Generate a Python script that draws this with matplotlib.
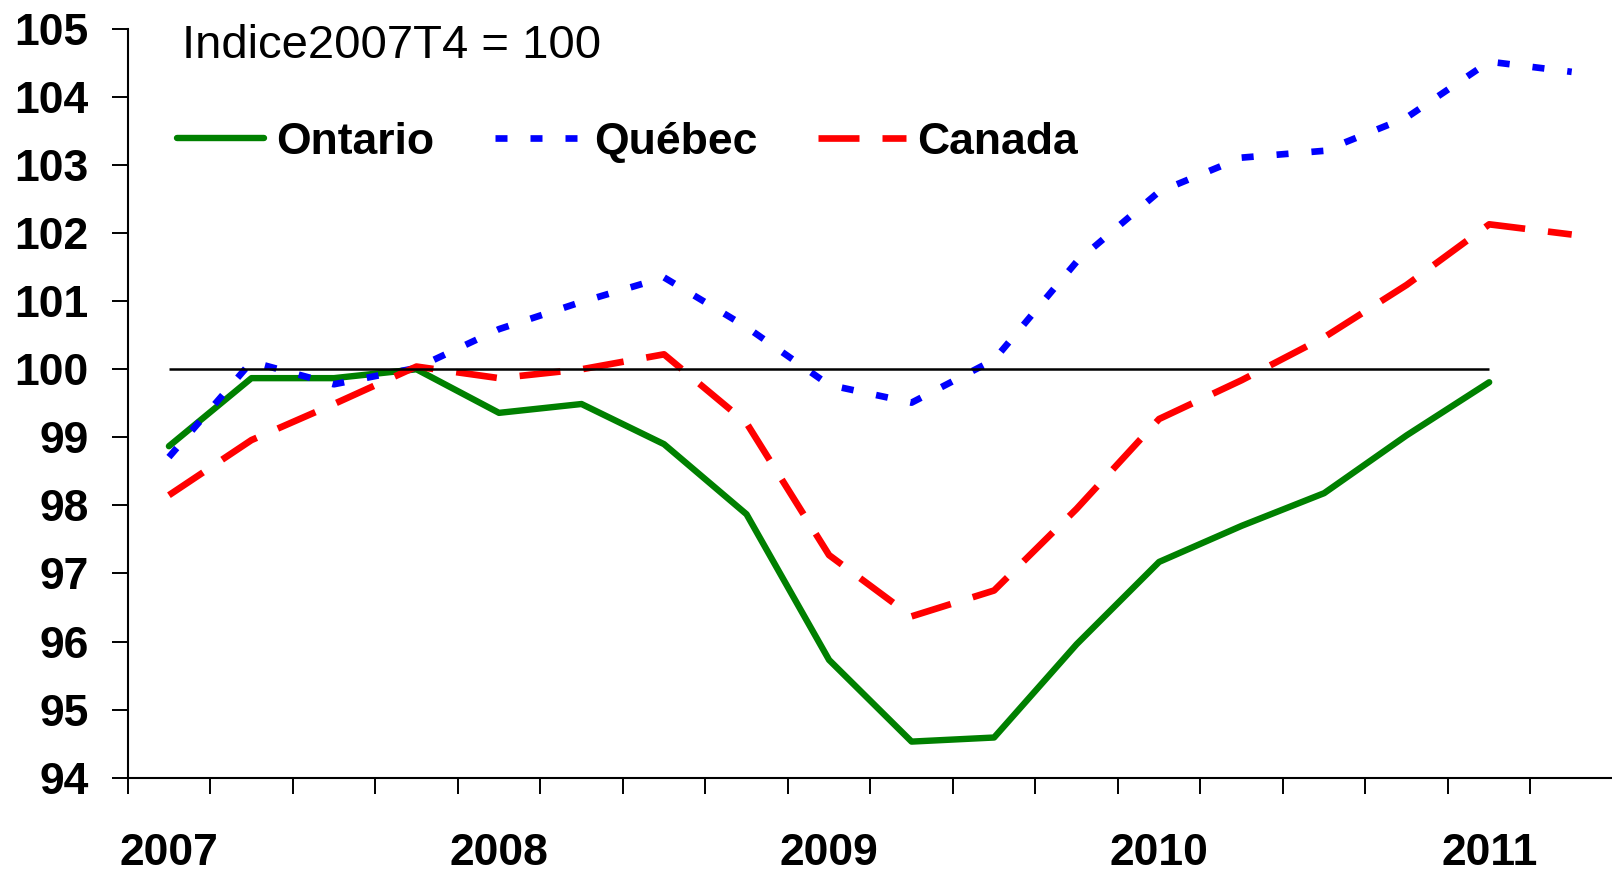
import numpy as np
import matplotlib.pyplot as plt

plt.rcParams['font.family'] = ['Liberation Sans', 'DejaVu Sans']

# quarters 2007T1 .. 2011T2, index 2007T4 = 100
quarters = ['2007T1', '2007T2', '2007T3', '2007T4',
            '2008T1', '2008T2', '2008T3', '2008T4',
            '2009T1', '2009T2', '2009T3', '2009T4',
            '2010T1', '2010T2', '2010T3', '2010T4',
            '2011T1', '2011T2']
years = ['2007', '2008', '2009', '2010', '2011']

ontario = [98.87, 99.87, 99.87, 100.0, 99.36, 99.49, 98.90, 97.87, 95.73,
           94.53, 94.59, 95.96, 97.17, 97.70, 98.18, 99.03, 99.81]
quebec = [98.71, 100.11, 99.78, 100.02, 100.59, 100.99, 101.35, 100.62, 99.77,
          99.51, 100.14, 101.58, 102.61, 103.11, 103.21, 103.70, 104.52, 104.37]
canada = [98.15, 98.96, 99.49, 100.04, 99.87, 100.0, 100.22, 99.21, 97.27,
          96.37, 96.75, 97.95, 99.27, 99.84, 100.47, 101.24, 102.13, 101.98]

fig = plt.figure(figsize=(16.12, 8.73), dpi=100)
ax = fig.add_axes([0.0792, 0.1092, 0.9214, 0.8576])

x = np.arange(len(quarters))
ax.plot(x[:len(ontario)], ontario, color='#008000', lw=4.6,
        solid_capstyle='round', solid_joinstyle='round', label='Ontario')
ax.plot(x[:len(quebec)], quebec, color='#0000FF', lw=4.8, dashes=(1.8, 3.45),
        dash_capstyle='butt', label='Québec')
ax.plot(x[:len(canada)], canada, color='#FF0000', lw=4.8, dashes=(6.15, 3.45),
        dash_capstyle='butt', label='Canada')

# reference line at 100
ax.hlines(100, 0, quarters.index('2011T1'), color='black', lw=1.8, zorder=3)

ax.set_xlim(-0.5, len(quarters) - 0.5)
ax.set_ylim(94, 105)
ax.set_yticks(range(94, 106))
ax.set_xticks([quarters.index(y + 'T1') for y in years])
ax.set_xticklabels(years)
ax.set_xticks(np.arange(-0.5, len(quarters)), minor=True)

ax.tick_params(axis='x', which='major', length=0, pad=40)
ax.tick_params(axis='x', which='minor', length=11.5, width=1.4, direction='out')
ax.tick_params(axis='y', length=11.5, width=1.4, pad=16.5)
for lab in ax.get_xticklabels() + ax.get_yticklabels():
    lab.set_fontsize(32)
    lab.set_fontweight('bold')

for s in ['top', 'right']:
    ax.spines[s].set_visible(False)
for s in ['left', 'bottom']:
    ax.spines[s].set_linewidth(1.5)

ax.legend(loc='center left', bbox_to_anchor=(0.1098, 0.8373),
          bbox_transform=fig.transFigure, ncol=3, frameon=False,
          prop=dict(weight='bold', size=32), handlelength=1.96,
          handletextpad=0.27, columnspacing=1.37, borderpad=0, borderaxespad=0)

fig.text(182 / 1612, 1 - 58 / 873, 'Indice2007T4 = 100', fontsize=34,
         va='baseline', ha='left')

fig.savefig('out.png', dpi=100)
